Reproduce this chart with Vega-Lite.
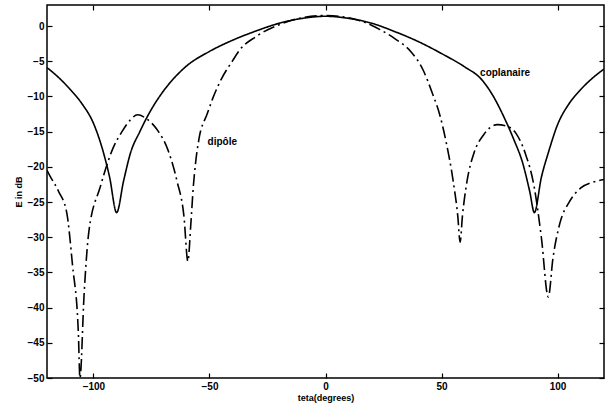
{
  "$schema": "https://vega.github.io/schema/vega-lite/v6.json",
  "width": 557,
  "height": 373,
  "autosize": {"type": "none"},
  "padding": {"left": 47, "top": 5, "right": 3, "bottom": 35},
  "background": "white",
  "config": {
    "view": {"stroke": "black", "strokeWidth": 1.5},
    "font": "Liberation Sans",
    "axis": {
      "grid": false,
      "domain": false,
      "tickColor": "black",
      "tickWidth": 1.2,
      "tickSize": -5,
      "labelColor": "black",
      "labelFont": "Liberation Sans",
      "labelFontWeight": "bold",
      "labelFontSize": 10,
      "titleFont": "Liberation Sans",
      "titleFontWeight": "bold",
      "titleFontSize": 9,
      "titleColor": "black"
    }
  },
  "datasets": {
    "pattern": [
      {"theta": -120, "dB": -5.9, "curve": "coplanaire"},
      {"theta": -115, "dB": -7.3, "curve": "coplanaire"},
      {"theta": -110, "dB": -9.0, "curve": "coplanaire"},
      {"theta": -105, "dB": -11.0, "curve": "coplanaire"},
      {"theta": -100, "dB": -13.8, "curve": "coplanaire"},
      {"theta": -96, "dB": -17.6, "curve": "coplanaire"},
      {"theta": -93, "dB": -21.5, "curve": "coplanaire"},
      {"theta": -90, "dB": -26.5, "curve": "coplanaire"},
      {"theta": -87, "dB": -22, "curve": "coplanaire"},
      {"theta": -84, "dB": -18, "curve": "coplanaire"},
      {"theta": -80, "dB": -15.0, "curve": "coplanaire"},
      {"theta": -77, "dB": -13, "curve": "coplanaire"},
      {"theta": -70, "dB": -9.3, "curve": "coplanaire"},
      {"theta": -65, "dB": -7.3, "curve": "coplanaire"},
      {"theta": -60, "dB": -5.7, "curve": "coplanaire"},
      {"theta": -50, "dB": -3.6, "curve": "coplanaire"},
      {"theta": -40, "dB": -2.0, "curve": "coplanaire"},
      {"theta": -30, "dB": -0.7, "curve": "coplanaire"},
      {"theta": -20, "dB": 0.4, "curve": "coplanaire"},
      {"theta": -10, "dB": 1.1, "curve": "coplanaire"},
      {"theta": 0, "dB": 1.4, "curve": "coplanaire"},
      {"theta": 10, "dB": 1.1, "curve": "coplanaire"},
      {"theta": 20, "dB": 0.4, "curve": "coplanaire"},
      {"theta": 30, "dB": -0.8, "curve": "coplanaire"},
      {"theta": 40, "dB": -2.2, "curve": "coplanaire"},
      {"theta": 50, "dB": -3.9, "curve": "coplanaire"},
      {"theta": 60, "dB": -5.8, "curve": "coplanaire"},
      {"theta": 67, "dB": -7.5, "curve": "coplanaire"},
      {"theta": 72, "dB": -9.8, "curve": "coplanaire"},
      {"theta": 77, "dB": -13, "curve": "coplanaire"},
      {"theta": 81, "dB": -16, "curve": "coplanaire"},
      {"theta": 85, "dB": -19.5, "curve": "coplanaire"},
      {"theta": 88, "dB": -23.5, "curve": "coplanaire"},
      {"theta": 90, "dB": -26.5, "curve": "coplanaire"},
      {"theta": 93, "dB": -21.5, "curve": "coplanaire"},
      {"theta": 96, "dB": -18, "curve": "coplanaire"},
      {"theta": 100, "dB": -14, "curve": "coplanaire"},
      {"theta": 105, "dB": -11, "curve": "coplanaire"},
      {"theta": 110, "dB": -9.0, "curve": "coplanaire"},
      {"theta": 115, "dB": -7.4, "curve": "coplanaire"},
      {"theta": 120, "dB": -6.1, "curve": "coplanaire"},

      {"theta": -120, "dB": -20.5, "curve": "dipôle"},
      {"theta": -118.7, "dB": -21.3, "curve": "dipôle"},
      {"theta": -115, "dB": -23.5, "curve": "dipôle"},
      {"theta": -111.5, "dB": -26.5, "curve": "dipôle"},
      {"theta": -109, "dB": -34, "curve": "dipôle"},
      {"theta": -106.5, "dB": -43.5, "curve": "dipôle"},
      {"theta": -105.8, "dB": -50, "curve": "dipôle"},
      {"theta": -104, "dB": -38, "curve": "dipôle"},
      {"theta": -102, "dB": -29.3, "curve": "dipôle"},
      {"theta": -97, "dB": -22.8, "curve": "dipôle"},
      {"theta": -91.5, "dB": -17.3, "curve": "dipôle"},
      {"theta": -87.7, "dB": -15, "curve": "dipôle"},
      {"theta": -84, "dB": -13.3, "curve": "dipôle"},
      {"theta": -81, "dB": -12.6, "curve": "dipôle"},
      {"theta": -77, "dB": -13.2, "curve": "dipôle"},
      {"theta": -72.6, "dB": -14.7, "curve": "dipôle"},
      {"theta": -68, "dB": -17.5, "curve": "dipôle"},
      {"theta": -64, "dB": -22, "curve": "dipôle"},
      {"theta": -61, "dB": -27, "curve": "dipôle"},
      {"theta": -59.3, "dB": -33.4, "curve": "dipôle"},
      {"theta": -58, "dB": -28, "curve": "dipôle"},
      {"theta": -57, "dB": -23, "curve": "dipôle"},
      {"theta": -56, "dB": -19.5, "curve": "dipôle"},
      {"theta": -54.5, "dB": -16, "curve": "dipôle"},
      {"theta": -51, "dB": -12.5, "curve": "dipôle"},
      {"theta": -48.5, "dB": -10.2, "curve": "dipôle"},
      {"theta": -45, "dB": -7.6, "curve": "dipôle"},
      {"theta": -40, "dB": -4.9, "curve": "dipôle"},
      {"theta": -37, "dB": -3.4, "curve": "dipôle"},
      {"theta": -30, "dB": -1.5, "curve": "dipôle"},
      {"theta": -20, "dB": 0.2, "curve": "dipôle"},
      {"theta": -10, "dB": 1.2, "curve": "dipôle"},
      {"theta": 0, "dB": 1.5, "curve": "dipôle"},
      {"theta": 10, "dB": 1.2, "curve": "dipôle"},
      {"theta": 20, "dB": 0.1, "curve": "dipôle"},
      {"theta": 23.5, "dB": -0.5, "curve": "dipôle"},
      {"theta": 30, "dB": -1.8, "curve": "dipôle"},
      {"theta": 37, "dB": -3.7, "curve": "dipôle"},
      {"theta": 42, "dB": -6.2, "curve": "dipôle"},
      {"theta": 46, "dB": -9.5, "curve": "dipôle"},
      {"theta": 49.4, "dB": -12.8, "curve": "dipôle"},
      {"theta": 52, "dB": -16.5, "curve": "dipôle"},
      {"theta": 55, "dB": -22, "curve": "dipôle"},
      {"theta": 57, "dB": -27, "curve": "dipôle"},
      {"theta": 58, "dB": -30.7, "curve": "dipôle"},
      {"theta": 59, "dB": -27, "curve": "dipôle"},
      {"theta": 61, "dB": -22, "curve": "dipôle"},
      {"theta": 64, "dB": -18, "curve": "dipôle"},
      {"theta": 68, "dB": -15.5, "curve": "dipôle"},
      {"theta": 74, "dB": -14, "curve": "dipôle"},
      {"theta": 78, "dB": -14.2, "curve": "dipôle"},
      {"theta": 82, "dB": -15.2, "curve": "dipôle"},
      {"theta": 86, "dB": -18, "curve": "dipôle"},
      {"theta": 90, "dB": -23, "curve": "dipôle"},
      {"theta": 93, "dB": -30, "curve": "dipôle"},
      {"theta": 96, "dB": -38.5, "curve": "dipôle"},
      {"theta": 98, "dB": -33, "curve": "dipôle"},
      {"theta": 101, "dB": -28, "curve": "dipôle"},
      {"theta": 105, "dB": -25, "curve": "dipôle"},
      {"theta": 110, "dB": -23, "curve": "dipôle"},
      {"theta": 115, "dB": -22.2, "curve": "dipôle"},
      {"theta": 120, "dB": -21.8, "curve": "dipôle"}
    ],
    "labels": [
      {"theta": 66.6, "dB": -6.7, "label": "coplanaire"},
      {"theta": -50.8, "dB": -16.4, "label": "dipôle"}
    ]
  },
  "resolve": {"axis": {"x": "independent", "y": "independent"}},
  "layer": [
    {
      "data": {"name": "pattern"},
      "mark": {"type": "line", "color": "black", "strokeWidth": 1.6, "clip": true, "interpolate": "monotone"},
      "encoding": {
        "x": {
          "field": "theta", "type": "quantitative",
          "scale": {"domain": [-120, 120], "nice": false},
          "axis": {"values": [-100, -50, 0, 50, 100], "title": "teta(degrees)", "labelPadding": 8, "titlePadding": 2}
        },
        "y": {
          "field": "dB", "type": "quantitative",
          "scale": {"domain": [-50, 3], "nice": false, "zero": false},
          "axis": {"values": [0, -5, -10, -15, -20, -25, -30, -35, -40, -45, -50], "title": "E in dB", "labelPadding": 8, "titlePadding": 4}
        },
        "detail": {"field": "curve"},
        "strokeDash": {
          "field": "curve", "type": "nominal",
          "scale": {"domain": ["coplanaire", "dipôle"], "range": [[1, 0], [12, 4, 2, 4]]},
          "legend": null
        }
      }
    },
    {
      "data": {"name": "pattern"},
      "mark": {"type": "line", "opacity": 0},
      "encoding": {
        "x": {"field": "theta", "type": "quantitative", "axis": {"values": [-100, -50, 0, 50, 100], "labels": false, "title": null}},
        "y": {"field": "dB", "type": "quantitative", "axis": {"values": [0, -5, -10, -15, -20, -25, -30, -35, -40, -45, -50], "labels": false, "title": null}},
        "detail": {"field": "curve"}
      }
    },
    {
      "data": {"name": "labels"},
      "mark": {"type": "text", "align": "left", "baseline": "middle", "font": "Liberation Sans", "fontWeight": "bold", "fontSize": 10, "color": "black"},
      "encoding": {
        "x": {"field": "theta", "type": "quantitative", "axis": null},
        "y": {"field": "dB", "type": "quantitative", "axis": null},
        "text": {"field": "label"}
      }
    }
  ]
}
